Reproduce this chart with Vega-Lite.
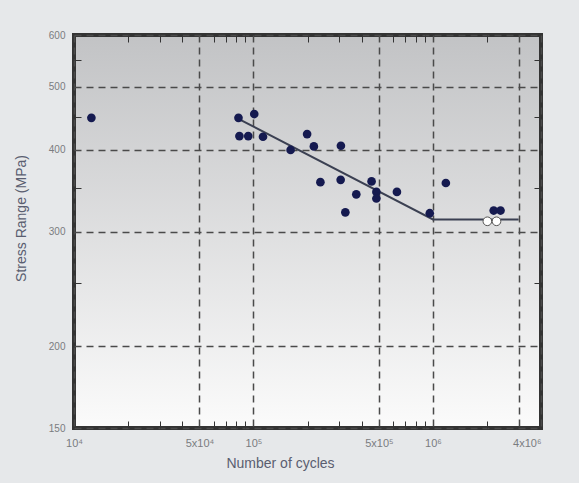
{
  "$schema": "https://vega.github.io/schema/vega-lite/v6.json",
  "width": 467,
  "height": 393,
  "autosize": "none",
  "padding": {"left": 74, "top": 35, "right": 38, "bottom": 55},
  "background": "#e6e8ea",
  "config": {
    "view": {
      "stroke": "#333333",
      "strokeWidth": 4,
      "fill": {"gradient": "linear", "x1": 0, "y1": 0, "x2": 0, "y2": 1, "stops": [{"offset": 0, "color": "#c2c3c5"}, {"offset": 1, "color": "#fbfbfb"}]}
    },
    "axis": {"labelFont": "Liberation Sans", "titleFont": "Liberation Sans"}
  },
  "datasets": {
    "filled": [
      {"N": 12500, "S": 448},
      {"N": 82500, "S": 448},
      {"N": 101000, "S": 454},
      {"N": 83500, "S": 420},
      {"N": 93500, "S": 420},
      {"N": 113000, "S": 419},
      {"N": 161000, "S": 400},
      {"N": 199000, "S": 423},
      {"N": 217000, "S": 405},
      {"N": 307000, "S": 406},
      {"N": 236000, "S": 357},
      {"N": 306000, "S": 360},
      {"N": 325000, "S": 321},
      {"N": 374000, "S": 342},
      {"N": 455000, "S": 358},
      {"N": 484000, "S": 345},
      {"N": 484000, "S": 337},
      {"N": 630000, "S": 345},
      {"N": 960000, "S": 320},
      {"N": 1180000, "S": 356},
      {"N": 2180000, "S": 323},
      {"N": 2380000, "S": 323}
    ],
    "hollow": [
      {"N": 2010000, "S": 311},
      {"N": 2260000, "S": 311}
    ],
    "curve": [
      {"N": 83000, "S": 446},
      {"N": 1000000, "S": 313},
      {"N": 3000000, "S": 313}
    ]
  },
  "layer": [
    {
      "data": {"name": "curve"},
      "mark": {"type": "line", "color": "#3b4052", "strokeWidth": 2},
      "encoding": {
        "x": {
          "field": "N", "type": "quantitative",
          "scale": {"type": "log", "domain": [10000, 4000000], "nice": false},
          "axis": {
            "orient": "bottom",
            "values": [10000, 50000, 100000, 500000, 1000000, 3000000, 4000000],
            "labelExpr": "datum.value == 10000 ? '10⁴' : datum.value == 50000 ? '5x10⁴' : datum.value == 100000 ? '10⁵' : datum.value == 500000 ? '5x10⁵' : datum.value == 1000000 ? '10⁶' : datum.value == 4000000 ? '4x10⁶' : ''",
            "labelAlign": {"condition": {"test": "datum.value >= 4000000", "value": "right"}, "value": "center"},
            "labelFontSize": 11,
            "labelColor": "#7a7c80",
            "labelPadding": 9,
            "labelFlush": false,
            "ticks": false,
            "domain": false,
            "grid": true,
            "gridDash": [7, 5],
            "gridColor": "#4a4a4a",
            "gridWidth": 1.5,
            "title": "Number of cycles",
            "titleFontSize": 14,
            "titleFontWeight": "normal",
            "titleColor": "#5a5e70",
            "titleX": 206,
            "titlePadding": 8
          }
        },
        "y": {
          "field": "S", "type": "quantitative",
          "scale": {"type": "log", "domain": [150, 600], "nice": false},
          "axis": {
            "orient": "left",
            "values": [150, 200, 300, 400, 500, 600],
            "format": "d",
            "labelFontSize": 10,
            "labelColor": "#7a7c80",
            "labelPadding": 9,
            "labelFlush": false,
            "ticks": false,
            "domain": false,
            "grid": true,
            "gridDash": [7, 5],
            "gridColor": "#4a4a4a",
            "gridWidth": 1.5,
            "title": "Stress Range (MPa)",
            "titleFontSize": 14,
            "titleFontWeight": "normal",
            "titleColor": "#5a5e70",
            "titleX": -46,
            "titleY": 183
          }
        }
      }
    },
    {
      "data": {"name": "filled"},
      "mark": {"type": "point", "filled": true, "color": "#151a50", "size": 75, "opacity": 1},
      "encoding": {
        "x": {
          "field": "N", "type": "quantitative",
          "axis": {"orient": "bottom", "values": [20000, 30000, 40000, 60000, 70000, 80000, 90000, 200000, 300000, 400000, 600000, 700000, 800000, 900000, 2000000], "labels": false, "domain": false, "grid": false, "ticks": true, "tickSize": -7, "tickColor": "#333333", "title": null}
        },
        "y": {
          "field": "S", "type": "quantitative",
          "axis": {"orient": "left", "values": [250, 350, 450, 550], "labels": false, "domain": false, "grid": false, "ticks": true, "tickSize": -7, "tickColor": "#333333", "title": null}
        }
      }
    },
    {
      "data": {"name": "hollow"},
      "mark": {"type": "point", "filled": true, "fill": "#ffffff", "stroke": "#555555", "strokeWidth": 1, "size": 75, "opacity": 1},
      "encoding": {
        "x": {
          "field": "N", "type": "quantitative",
          "axis": {"orient": "top", "values": [20000, 30000, 40000, 60000, 70000, 80000, 90000, 200000, 300000, 400000, 600000, 700000, 800000, 900000, 2000000], "labels": false, "domain": false, "grid": false, "ticks": true, "tickSize": -7, "tickColor": "#333333", "title": null}
        },
        "y": {
          "field": "S", "type": "quantitative",
          "axis": {"orient": "right", "values": [250, 350, 450, 550], "labels": false, "domain": false, "grid": false, "ticks": true, "tickSize": -7, "tickColor": "#333333", "title": null}
        }
      }
    }
  ],
  "resolve": {"axis": {"x": "independent", "y": "independent"}}
}
